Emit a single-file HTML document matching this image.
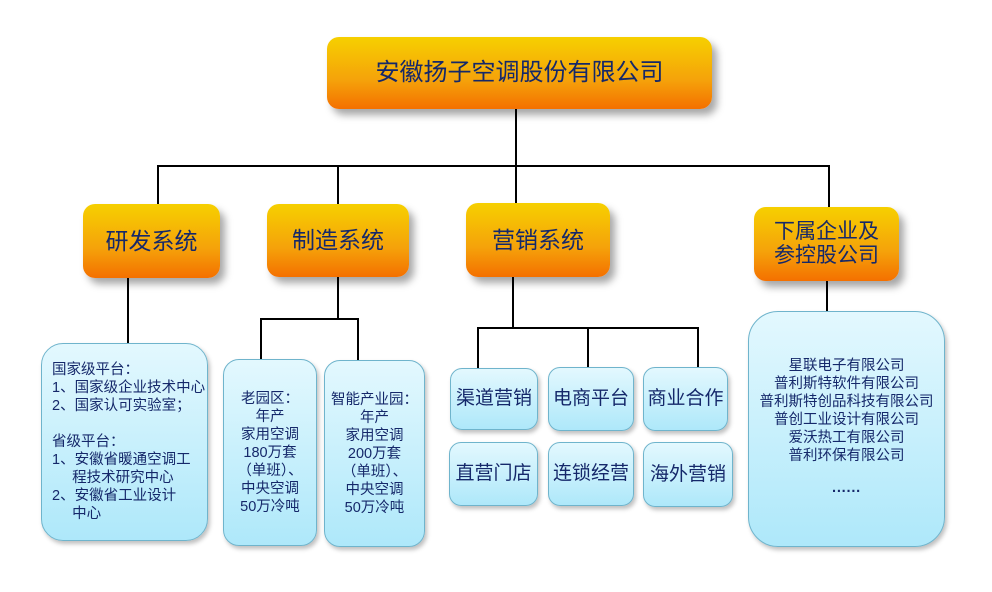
<!DOCTYPE html>
<html><head><meta charset="utf-8"><style>
body{margin:0;width:992px;height:592px;background:#fff;position:relative;overflow:hidden;font-family:"Liberation Sans","Noto Sans CJK SC",sans-serif;color:#15286a}
.o{position:absolute;border-radius:12px;background:linear-gradient(#f6d000,#f5a20a 60%,#f47000);box-shadow:5px 6px 8px rgba(0,0,0,.35);display:flex;align-items:center;justify-content:center;text-align:center;font-size:23px;line-height:1.15}
.b{position:absolute;border-radius:22px;border:1.5px solid #6fb4cc;background:linear-gradient(#e3f8fe,#aee8fa);box-shadow:2px 3px 4px rgba(0,0,0,.25);display:flex;align-items:center;justify-content:center;text-align:center;font-size:14.5px;line-height:18px;box-sizing:border-box}
.s{border-radius:12px;font-size:19px}
.l{position:absolute;background:#000}
</style></head><body>
<div class="l" style="left:515px;top:109px;width:1.5px;height:57px"></div>
<div class="l" style="left:157px;top:165px;width:672px;height:1.5px"></div>
<div class="l" style="left:157px;top:165px;width:1.5px;height:40px"></div>
<div class="l" style="left:337px;top:165px;width:1.5px;height:40px"></div>
<div class="l" style="left:515px;top:165px;width:1.5px;height:40px"></div>
<div class="l" style="left:828px;top:165px;width:1.5px;height:43px"></div>
<div class="l" style="left:127px;top:278px;width:1.5px;height:66px"></div>
<div class="l" style="left:337px;top:277px;width:1.5px;height:42px"></div>
<div class="l" style="left:260px;top:318px;width:98px;height:1.5px"></div>
<div class="l" style="left:260px;top:318px;width:1.5px;height:42px"></div>
<div class="l" style="left:357px;top:318px;width:1.5px;height:42px"></div>
<div class="l" style="left:512px;top:277px;width:1.5px;height:51px"></div>
<div class="l" style="left:477px;top:327px;width:221px;height:1.5px"></div>
<div class="l" style="left:477px;top:327px;width:1.5px;height:41px"></div>
<div class="l" style="left:587px;top:327px;width:1.5px;height:41px"></div>
<div class="l" style="left:697px;top:327px;width:1.5px;height:41px"></div>
<div class="l" style="left:826px;top:281px;width:1.5px;height:31px"></div>

<div class="o" style="left:327px;top:37px;width:385px;height:72px;font-size:24px">安徽扬子空调股份有限公司</div>
<div class="o" style="left:83px;top:204px;width:137px;height:74px">研发系统</div>
<div class="o" style="left:267px;top:204px;width:142px;height:73px">制造系统</div>
<div class="o" style="left:466px;top:203px;width:144px;height:74px">营销系统</div>
<div class="o" style="left:754px;top:207px;width:145px;height:74px;font-size:21px">下属企业及<br>参控股公司</div>

<div class="b" style="left:41px;top:343px;width:167px;height:198px;justify-content:flex-start;text-align:left;padding-left:10px"><div>国家级平台：<br>1、国家级企业技术中心<br>2、国家认可实验室；<br><br>省级平台：<br>1、安徽省暖通空调工<br>&nbsp;&nbsp;&nbsp;&nbsp;&nbsp;程技术研究中心<br>2、安徽省工业设计<br>&nbsp;&nbsp;&nbsp;&nbsp;&nbsp;中心</div></div>
<div class="b" style="left:223px;top:359px;width:94px;height:187px;border-radius:16px">老园区：<br>年产<br>家用空调<br>180万套<br>（单班）、<br>中央空调<br>50万冷吨</div>
<div class="b" style="left:324px;top:360px;width:101px;height:187px;border-radius:16px">智能产业园：<br>年产<br>家用空调<br>200万套<br>（单班）、<br>中央空调<br>50万冷吨</div>

<div class="b s" style="left:450px;top:368px;width:88px;height:62px">渠道营销</div>
<div class="b s" style="left:548px;top:367px;width:86px;height:64px">电商平台</div>
<div class="b s" style="left:643px;top:367px;width:85px;height:64px">商业合作</div>
<div class="b s" style="left:449px;top:442px;width:89px;height:64px">直营门店</div>
<div class="b s" style="left:548px;top:442px;width:86px;height:64px">连锁经营</div>
<div class="b s" style="left:643px;top:442px;width:90px;height:65px">海外营销</div>

<div class="b" style="left:748px;top:311px;width:197px;height:236px;border-radius:30px;font-size:14.5px"><div>星联电子有限公司<br>普利斯特软件有限公司<br>普利斯特创品科技有限公司<br>普创工业设计有限公司<br>爱沃热工有限公司<br>普利环保有限公司<br><br><b>······</b></div></div>
</body></html>
